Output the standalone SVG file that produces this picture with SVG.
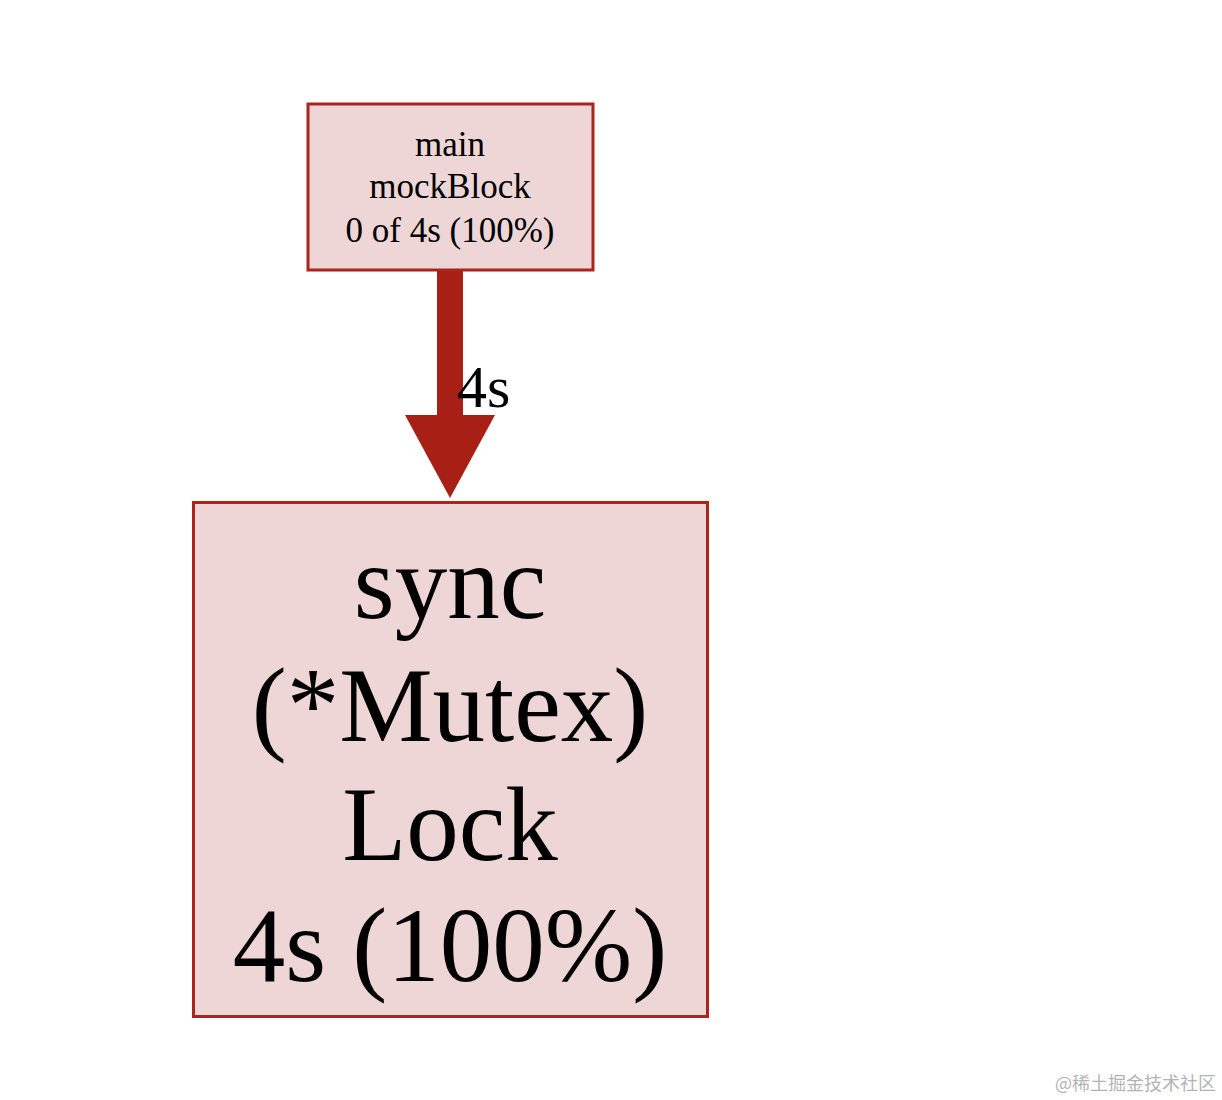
<svg xmlns="http://www.w3.org/2000/svg" width="1222" height="1100" viewBox="0 0 1222 1100">
<style>
.box{fill:#edd6d5;stroke:#a8261b;stroke-width:3}
.t{font-family:"Liberation Serif","Times New Roman",serif;fill:#000;text-anchor:middle}
.wm{font-family:"Noto Sans CJK SC","Noto Sans",sans-serif;fill:#b4b4b4;font-size:18px}
</style>
<rect width="1222" height="1100" fill="#ffffff"/>
<g id="edges">
<g id="edge-main-lock">
<rect x="437" y="270" width="26" height="146" fill="#a82015"/>
<polygon points="405,415 495,415 450,498" fill="#a82015"/>
<text class="t" x="457" y="407" font-size="60" style="text-anchor:start">4s</text>
</g>
</g>
<g id="node-main">
<rect class="box" x="308" y="104" width="285" height="166"/>
<text class="t" x="450" y="156" font-size="35">main</text>
<text class="t" x="450" y="198" font-size="35">mockBlock</text>
<text class="t" x="450" y="242" font-size="35">0 of 4s (100%)</text>
</g>
<g id="node-lock">
<rect class="box" x="193.5" y="502.5" width="514" height="514"/>
<text class="t" x="450" y="618" font-size="105">sync</text>
<text class="t" x="450" y="741" font-size="105">(*Mutex)</text>
<text class="t" x="450" y="860" font-size="105">Lock</text>
<text class="t" x="450" y="981" font-size="105">4s (100%)</text>
</g>
<text class="wm" x="1055" y="1090">@稀土掘金技术社区</text>
</svg>
